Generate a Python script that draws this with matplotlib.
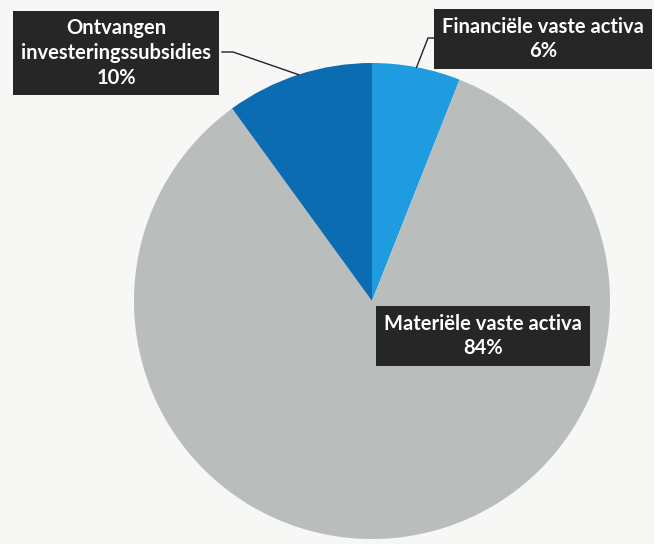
import numpy as np
import matplotlib.pyplot as plt

# ----- Data -----
labels = ["Financiële vaste activa", "Materiële vaste activa", "Ontvangen\ninvesteringssubsidies"]
shares = [6, 84, 10]
colors = ["#1f9ce0", "#b9bebc", "#0c6cb2"]
# ----------------

W, H = 654, 544
fig = plt.figure(figsize=(W / 100, H / 100), dpi=100, facecolor="#f7f7f5")
ax = fig.add_axes([0, 0, 1, 1])
ax.set_aspect("equal")

cx, cy, r = 372, H - 301, 238
wedges, _ = ax.pie(shares, colors=colors, startangle=90, counterclock=False,
                   center=(cx, cy), radius=r, frame=True,
                   wedgeprops=dict(linewidth=0))
ax.set_xlim(0, W)
ax.set_ylim(0, H)
ax.axis("off")

box = dict(boxstyle="square,pad=0.38", facecolor="#262626", edgecolor="none")
font = dict(family=["Lato", "DejaVu Sans"], fontsize=14.5, fontweight="bold",
            color="white", ha="center", va="center", linespacing=1.3)

def wedge_mid(w):
    a = np.deg2rad((w.theta1 + w.theta2) / 2)
    return cx + r * np.cos(a), cy + r * np.sin(a)

def label_text(i):
    return f"{labels[i]}\n{shares[i]}%"

# Financiële vaste activa (top right)
ax.text(543, H - 39, label_text(0), bbox=box, **font)
mx, my = wedge_mid(wedges[0])
ax.plot([435, 428, mx], [H - 38, H - 38, my], color="#222222", lw=1, zorder=1)

# Ontvangen investeringssubsidies (top left)
ax.text(116, H - 53, label_text(2), bbox=box, **font)
mx, my = wedge_mid(wedges[2])
ax.plot([222, 233, mx], [H - 52, H - 52, my], color="#222222", lw=1, zorder=1)

# Materiële vaste activa (inside the grey slice)
ax.text(483, H - 336, label_text(1), bbox=box, **font)

fig.savefig("out.png", dpi=100, facecolor=fig.get_facecolor())
